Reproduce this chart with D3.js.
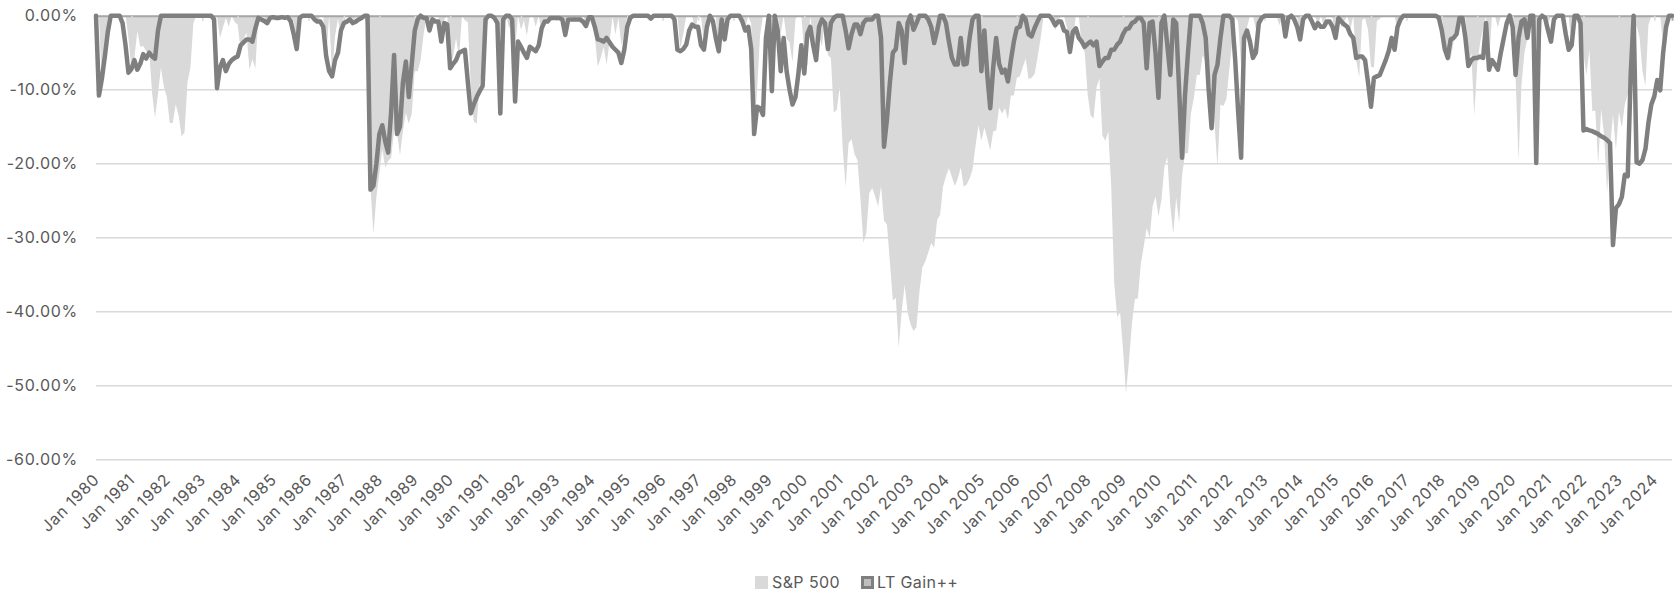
<!DOCTYPE html>
<html><head><meta charset="utf-8">
<script src="https://cdn.jsdelivr.net/npm/d3@7/dist/d3.min.js"></script>
<style>
html,body{margin:0;padding:0;background:#fff;}
svg{display:block;font-family:Inter,"Noto Sans",sans-serif;}
</style></head><body>
<svg id="chart" width="1674" height="595"></svg>
<script>
const seriesNames = ["S&P 500", "LT Gain++"];
const yTickValues = [0, -10, -20, -30, -40, -50, -60];
const xTickLabels = ["Jan 1980","Jan 1981","Jan 1982","Jan 1983","Jan 1984","Jan 1985","Jan 1986","Jan 1987","Jan 1988","Jan 1989","Jan 1990","Jan 1991","Jan 1992","Jan 1993","Jan 1994","Jan 1995","Jan 1996","Jan 1997","Jan 1998","Jan 1999","Jan 2000","Jan 2001","Jan 2002","Jan 2003","Jan 2004","Jan 2005","Jan 2006","Jan 2007","Jan 2008","Jan 2009","Jan 2010","Jan 2011","Jan 2012","Jan 2013","Jan 2014","Jan 2015","Jan 2016","Jan 2017","Jan 2018","Jan 2019","Jan 2020","Jan 2021","Jan 2022","Jan 2023","Jan 2024"];

// monthly drawdown, % (Jan 1980 ...)
const sp500 = [
0,0,-9.8,-6.2,-1.8,0,0,0,0,0,0,-3.0,
-7.2,-5.7,-2.1,-4.2,-4.1,-4.8,-4.8,-10.4,-13.8,-10.6,-7.0,-9.6,
-11.0,-14.5,-14.5,-12.0,-13.5,-16.3,-15.8,-9.0,-7.0,-1.0,0,0,
0,0,0,0,-0.9,0,-3.0,-1.6,-0.3,-1.5,0,-0.9,
-1.2,-4.7,-3.1,-2.3,-7.3,-5.9,-7.1,0,0,0,-1.1,0,
0,0,-0.1,-0.5,0,0,-0.2,-0.8,-3.9,0,0,0,
0,0,0,-1.1,0,0,-5.6,0,-8.0,-2.7,-0.4,-3.0,
0,0,0,-0.8,-0.2,0,0,0,-2.2,-23.0,-29.5,-24.5,
-21.3,-18.0,-20.5,-19.6,-19.2,-15.5,-15.8,-18.9,-15.5,-13.1,-14.6,-13.2,
-7.5,-7.5,-6.0,-2.5,0,-0.5,0,0,0,-2.3,-0.5,0,
-6.7,-5.5,-3.0,-5.6,0,-0.6,-0.9,-9.8,-14.3,-14.6,-9.4,-6.9,
-2.8,0,0,0,0,-4.5,-0.3,0,-1.7,-0.4,-4.4,0,
-1.9,-0.6,-2.7,0,0,-1.5,0,-2.1,-1.0,-0.7,0,0,
0,0,0,-2.4,0,0,-0.5,0,-0.8,0,-1.1,0,
0,-2.7,-6.9,-5.7,-4.2,-6.6,-3.6,-0.1,-2.5,-0.3,-4.0,-2.6,
0,0,0,0,0,0,0,0,0,0,0,0,
0,0,0,0,0,0,-4.4,-2.4,0,0,0,-2.0,
0,0,-4.1,0,0,0,0,-5.6,-0.4,-3.8,0,0,
0,0,0,0,-1.7,0,-1.1,-15.4,-10.0,-2.7,0,0,
0,-3.1,0,0,-2.4,0,-3.1,-3.6,-6.3,-0.4,0,0,
-5.0,-6.8,0,-3.0,-5.0,-2.7,-4.2,0,-5.3,-5.7,-13.1,-12.7,
-9.6,-17.9,-23.1,-17.2,-16.7,-18.7,-19.5,-24.6,-30.7,-29.4,-24.0,-23.3,
-24.4,-25.8,-23.0,-27.7,-28.2,-33.3,-38.5,-38.1,-44.8,-39.9,-36.4,-40.1,
-41.7,-42.6,-42.1,-37.3,-34.0,-33.2,-32.0,-30.7,-31.4,-27.6,-26.9,-23.1,
-21.7,-20.6,-21.8,-23.0,-22.0,-20.5,-23.1,-22.8,-22.0,-20.8,-17.6,-14.8,
-16.9,-15.1,-16.6,-18.2,-15.6,-15.5,-12.4,-13.2,-12.5,-14.0,-10.8,-10.8,
-8.4,-8.2,-7.0,-5.8,-8.6,-8.4,-7.9,-5.7,-3.2,-0.3,0,0,
0,-2.0,-0.9,0,0,-1.7,-4.7,-3.3,0,0,-4.2,-4.9,
-10.6,-13.5,-13.9,-9.7,-8.5,-16.2,-16.9,-15.6,-23.2,-36.1,-40.7,-40.1,
-45.2,-51.0,-46.7,-41.6,-38.3,-38.2,-33.6,-31.2,-28.7,-30.0,-25.8,-24.4,
-27.1,-24.9,-20.4,-19.1,-25.6,-29.5,-24.6,-28.0,-21.6,-18.6,-18.6,-13.2,
-11.1,-8.0,-8.0,-5.3,-6.4,-7.9,-9.8,-14.7,-20.4,-12.0,-12.2,-11.3,
-7.3,-3.3,-0.1,-0.8,-6.8,-3.0,-1.6,0,0,-1.8,-1.4,-0.5,
0,0,0,0,0,-1.3,0,-2.9,-0.1,0,0,0,
-3.5,0,0,0,0,0,-1.4,0,-1.4,0,0,-0.3,
-3.3,0,-1.6,-0.7,0,-1.9,0,-6.0,-8.4,-0.6,-0.3,-1.9,
-6.9,-7.0,-0.7,-0.4,0,0,0,0,-0.1,-1.9,0,0,
0,0,0,0,0,0,0,0,0,0,0,0,
0,-3.7,-6.2,-5.8,-3.5,-2.9,0,0,0,-6.8,-5.0,-13.5,
-6.6,-3.6,-1.8,0,-6.4,0,0,-1.6,0,0,0,0,
0,-8.4,-19.6,-9.3,-5.0,-3.1,0,0,-3.8,-6.4,0,0,
-1.0,0,0,0,0,0,0,0,-4.7,0,-0.7,0,
-5.2,-8.0,-4.6,-12.9,-12.8,-20.0,-12.6,-16.2,-23.9,-17.8,-13.4,-18.1,
-13.0,-15.1,-12.0,-10.6,-10.3,-4.4,-1.3,-2.9,-7.5,-9.5,-1.3,0,
0,0,0,-4.1,0,0,0
];

const ltGain = [
0,-10.8,-8.5,-5.5,-2.2,0,0,0,0,-1,-4,-7.7,
-7.2,-6.0,-7.3,-6.5,-5.2,-5.8,-5.0,-5.5,-5.8,-2,0,0,
0,0,0,0,0,0,0,0,0,0,0,0,
0,0,0,0,-0.5,-9.8,-7,-6,-7.5,-6.5,-6,-5.7,
-5.5,-4,-3.6,-3.2,-3.2,-3.5,-1.7,-0.3,-0.5,-0.7,-1,-0.3,
-0.2,-0.3,-0.3,-0.2,-0.3,-0.2,-0.8,-2.5,-4.5,-0.3,0,0,
0,0,-0.5,-0.8,-0.8,-1.5,-5.5,-7.5,-8.2,-6,-5,-2,
-1,-0.8,-0.5,-1,-0.8,-0.5,-0.3,0,0,-23.5,-23,-20,
-16,-14.8,-17,-18.5,-13,-5.3,-16,-15,-9,-6.2,-11,-6.5,
-2,-0.5,0,-0.3,-0.3,-2,-0.5,-0.8,-0.8,-3.5,-1,-1.2,
-7.1,-6.5,-6,-5,-4.8,-4.6,-9,-13.2,-12,-11,-10.2,-9.5,
-0.5,0,0,-0.3,-1,-13.2,-0.5,0,0,-0.5,-11.6,-3.5,
-4.2,-5,-5.7,-4.2,-4.5,-4.8,-4,-1.7,-0.8,-0.8,-0.3,-0.3,
-0.3,-0.3,-0.5,-2.6,-0.5,-0.5,-0.5,-0.5,-0.5,-0.8,-1.4,-0.2,
-0.2,-1.5,-3.2,-3.3,-3.5,-3.0,-3.6,-4.2,-4.6,-5,-6.4,-4.6,
-1.5,-0.3,0,0,0,0,0,0,-0.4,0,0,0,
0,0,0,0,-0.5,-4.6,-4.8,-4.5,-3.9,-2,-1.2,-1.5,
-1.5,-4,-4.6,-1.5,0,-0.7,-3,-4.8,-0.5,-3.2,-0.5,0,
0,0,0,-0.8,-2,-1.5,-4.5,-16,-12.3,-12.5,-13.4,-3,
0,-10.2,0,-2,-7.5,-3,-7.5,-10,-12,-11,-7.8,-4,
-7.8,-2.5,-1.5,-4,-6,-1.5,-0.5,-1,-4.5,-1,-0.3,0,
0,0,-2,-4.4,-2.5,-1.2,-1.2,-2.5,-1,-0.5,-0.5,-0.5,
0,0,-3,-17.7,-14,-9,-5,-4.5,-1,-2,-6.4,-1,
0,-1.9,-1,0,0,0,-0.5,-1.5,-3.7,-2,0,0,
-1,-3.5,-5.7,-6.6,-6.6,-3,-6.6,-6.5,-3,-0.5,0,0,
-7.5,-2,-8,-12.5,-7,-3,-6.5,-7.7,-7.3,-8.9,-6,-3.5,
-1.7,-1.5,0,-0.5,-2.5,-2.8,-1.7,-0.8,0,0,0,0,
-0.5,-1.3,-0.8,-0.8,-2,-2.2,-4.9,-2.2,-1.7,-3,-3.5,-4.2,
-3.8,-3.5,-4,-3.5,-6.8,-6.2,-5.7,-5.7,-4.6,-4.6,-3.9,-3.5,
-2.5,-1.8,-1.7,-1,-0.8,-0.3,-0.3,-1,-7.1,-1,-0.8,-5,
-11.1,-1,0,-4,-8,-0.5,-1,-10,-19.2,-10.7,-5,0,
0,0,0,-1,-3,-10,-15.2,-8,-6.6,-3,0,0,
0,-0.5,-6,-13,-19.2,-3,-2,-3.5,-5.7,-5,-1,-0.3,
0,0,0,0,0,0,0,-2.8,-0.3,0,-0.5,-1.5,
-3.2,-0.5,0,0,-0.8,-1.7,-1,-1.5,-1.5,-0.8,-0.8,-1.5,
-3,-0.3,-0.8,-1.2,-1.5,-2.5,-3,-5.7,-5.5,-5.5,-6,-9,
-12.3,-8.4,-8.2,-8,-7,-6,-4.8,-3,-4.6,-1.5,-0.5,0,
0,0,0,0,0,0,0,0,0,0,0,-0.3,
-2,-4.5,-5.7,-3.2,-3,-2.5,-0.3,-0.3,-3,-6.8,-6,-5.7,
-5.7,-5.5,-5.7,-1,-7.3,-6,-6.6,-7.3,-5,-3,-1,0,
-1.5,-8,-3,-0.8,-0.5,-3,0,0,-19.9,-0.5,0,-0.3,
-2,-3.5,-0.5,0,0,0,-2.5,-4.6,-4,0,0,-1,
-15.5,-15.3,-15.5,-15.6,-15.8,-16.0,-16.3,-16.5,-16.8,-17.2,-31.0,-26.0,
-25.5,-24.5,-21.5,-21.7,-8,0,-19.8,-20.0,-19.5,-18.0,-14.5,-12.0,
-10.9,-8.7,-10.1,-5,-1.5,0,0
];

const plot = {left: 96, right: 1672, top: 15.7, bottom: 459.7};
const FONT = "Inter,'Noto Sans',sans-serif";
const svg = d3.select("#chart");
const n = sp500.length;
const idx = d3.range(n);

const x = d3.scaleLinear().domain([0, n - 1]).range([plot.left, plot.right]);
const y = d3.scaleLinear().domain([-60, 0]).range([plot.bottom, plot.top]);

// gridlines
svg.append("g").selectAll("line").data(yTickValues.filter(d => d !== 0)).join("line")
  .attr("x1", plot.left).attr("x2", plot.right)
  .attr("y1", d => y(d)).attr("y2", d => y(d))
  .attr("stroke", "#d9d9d9").attr("stroke-width", 1.5);

// y axis labels
const yAxis = d3.axisLeft(y).tickValues(yTickValues).tickSize(0).tickPadding(0)
  .tickFormat(d => d.toFixed(2) + "%");
const gy = svg.append("g").attr("transform", `translate(${plot.left - 18},0)`).call(yAxis);
gy.select(".domain").remove();
gy.selectAll("text").attr("fill", "#595959").style("font-size", "16px")
  .style("font-family", FONT).style("letter-spacing", "0.7px");

// S&P area
const area = d3.area().x(i => x(i)).y0(y(0)).y1(i => y(sp500[i]));
svg.append("path").datum(idx).attr("d", area).attr("fill", "#d9d9d9");

// category axis at 0 (ticks), drawn over area
const tickIdx = d3.range(0, n, 12);
const xAxisTop = d3.axisBottom(x).tickValues(tickIdx).tickSize(5).tickFormat("");
const gx = svg.append("g").attr("transform", `translate(0,${y(0)})`).call(xAxisTop);
gx.select(".domain").attr("stroke", "#a6a6a6").attr("stroke-width", 2);
gx.selectAll(".tick line").attr("stroke", "#d9d9d9").attr("stroke-width", 1.5);

// LT Gain++ line
const line = d3.line().x(i => x(i)).y(i => y(ltGain[i]));
svg.append("path").datum(idx).attr("d", line).attr("fill", "none")
  .attr("stroke", "#7f7f7f").attr("stroke-width", 4.5)
  .attr("stroke-linejoin", "round").attr("stroke-linecap", "round");

// x labels at bottom
const xAxisBottom = d3.axisBottom(x).tickValues(tickIdx).tickSize(0)
  .tickFormat((d, i) => xTickLabels[i]);
const gxb = svg.append("g").attr("transform", `translate(0,${plot.bottom})`).call(xAxisBottom);
gxb.select(".domain").remove();
gxb.selectAll("text")
  .attr("fill", "#595959").style("font-size", "16px").style("font-family", FONT)
  .style("letter-spacing", "0.7px")
  .attr("text-anchor", "end").attr("dy", null).attr("y", 0)
  .attr("transform", "translate(4,21) rotate(-45)");

// legend
const lg = svg.append("g").attr("transform", "translate(755,576)")
  .style("font-family", FONT).style("letter-spacing", "0.4px");
lg.append("rect").attr("x", 0).attr("y", 0).attr("width", 13).attr("height", 13).attr("fill", "#d9d9d9");
lg.append("text").attr("x", 17).attr("y", 12).text(seriesNames[0])
  .attr("fill", "#595959").style("font-size", "16px");
lg.append("rect").attr("x", 107.5).attr("y", 1.5).attr("width", 10).attr("height", 10)
  .attr("fill", "#bfbfbf").attr("stroke", "#7f7f7f").attr("stroke-width", 3);
lg.append("text").attr("x", 122).attr("y", 12).text(seriesNames[1])
  .attr("fill", "#595959").style("font-size", "16px");
</script>
</body></html>
